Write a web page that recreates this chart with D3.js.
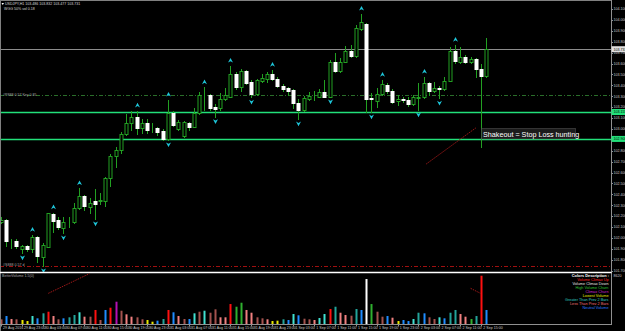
<!DOCTYPE html>
<html>
<head>
<meta charset="utf-8">
<script src="https://cdn.jsdelivr.net/npm/d3@7"></script>
<style>
html, body { margin: 0; padding: 0; background: #000; overflow: hidden; }
svg { display: block; }
text { font-family: "Liberation Sans", "DejaVu Sans", sans-serif; }
</style>
</head>
<body>
<svg id="chart" width="625" height="331"></svg>
<script>
// ---- chart data (USDJPY H1, 29 Aug 19:00 -> 2 Sep 16:00) ----
var titleLine = "USDJPY,H1  103.486 103.832 103.477 103.731";
var subTitleLine = "WGG  50% vol  0.18";

var opens = [102.146,102.165,101.967,101.972,101.899,101.922,101.899,102.009,101.825,101.920,
	102.220,102.165,102.091,102.142,102.144,102.270,102.385,102.287,102.339,102.341,
	102.342,102.547,102.752,102.807,102.954,103.057,103.112,103.006,103.052,102.997,
	103.011,102.981,102.905,103.144,102.997,102.935,103.057,103.021,103.144,103.311,
	103.311,103.201,103.189,103.272,103.296,103.504,103.382,103.532,103.433,103.318,
	103.443,103.461,103.504,103.458,103.397,103.373,103.357,103.235,103.174,103.278,
	103.300,103.296,103.339,103.296,103.617,103.532,103.617,103.718,103.669,103.917,
	103.963,103.279,103.259,103.321,103.403,103.351,103.256,103.275,103.266,103.226,
	103.288,103.290,103.419,103.351,103.376,103.364,103.443,103.715,103.617,103.663,
	103.617,103.642,103.550,103.486];
var highs = [102.192,102.174,101.990,101.990,101.935,101.935,102.027,102.018,101.954,102.233,
	102.233,102.192,102.192,102.192,102.321,102.454,102.394,102.364,102.449,102.412,
	102.562,102.770,102.837,102.975,103.137,103.167,103.167,103.088,103.088,103.057,
	103.021,102.997,103.266,103.167,103.082,103.076,103.066,103.192,103.342,103.380,
	103.321,103.229,103.327,103.378,103.578,103.525,103.550,103.541,103.449,103.458,
	103.504,103.525,103.541,103.477,103.412,103.385,103.366,103.275,103.302,103.342,
	103.351,103.364,103.449,103.633,103.700,103.651,103.761,103.770,103.954,104.055,
	103.972,103.327,103.376,103.449,103.419,103.366,103.311,103.296,103.293,103.311,
	103.421,103.477,103.431,103.433,103.394,103.474,103.755,103.770,103.755,103.679,
	103.660,103.655,103.596,103.832];
var lows = [102.137,101.926,101.908,101.908,101.862,101.880,101.871,101.779,101.743,101.917,
	102.055,102.082,102.045,102.100,102.137,102.266,102.256,102.229,102.174,102.311,
	102.293,102.477,102.651,102.782,102.944,102.990,102.954,102.963,102.960,102.969,
	102.944,102.899,102.899,103.027,102.990,102.926,102.990,103.018,103.137,103.174,
	103.174,103.112,103.174,103.266,103.293,103.366,103.351,103.412,103.290,103.311,
	103.431,103.433,103.449,103.385,103.348,103.311,103.192,103.091,103.165,103.266,
	103.266,103.293,103.293,103.293,103.522,103.522,103.614,103.660,103.660,103.908,
	103.155,103.155,103.204,103.311,103.330,103.238,103.220,103.247,103.210,103.220,
	103.174,103.284,103.311,103.339,103.281,103.357,103.440,103.605,103.605,103.605,
	103.605,103.477,102.834,103.477];
var closes = [102.165,101.972,101.972,101.926,101.926,101.899,102.009,101.834,101.935,102.226,
	102.158,102.100,102.146,102.146,102.272,102.385,102.293,102.318,102.311,102.344,
	102.547,102.752,102.807,102.954,103.057,103.112,103.006,103.052,102.990,102.999,
	102.975,102.905,103.149,103.036,103.066,103.066,103.021,103.144,103.311,103.307,
	103.195,103.183,103.272,103.311,103.504,103.382,103.532,103.424,103.318,103.449,
	103.470,103.504,103.458,103.397,103.366,103.351,103.235,103.174,103.281,103.302,
	103.302,103.339,103.296,103.617,103.532,103.617,103.718,103.669,103.923,103.978,
	103.275,103.270,103.321,103.412,103.351,103.250,103.275,103.266,103.226,103.290,
	103.293,103.419,103.351,103.373,103.366,103.443,103.715,103.623,103.663,103.617,
	103.642,103.550,103.486,103.731];

var volumes = [835,1420,890,835,710,530,1420,1010,1900,2185,
	1420,835,1010,1190,1600,2080,1300,1300,2490,710,
	2490,2895,3960,2360,1720,1300,1190,835,710,410,
	590,890,2490,2080,1420,890,890,1900,2185,2360,
	2005,2610,1190,1190,3550,3070,3780,2490,2005,1190,
	1010,835,530,590,835,710,1775,1545,940,835,
	710,1065,1775,2665,3070,2005,1600,1475,2665,2490,
	7990,3550,2185,1300,1420,1120,530,710,530,890,
	2005,1900,1190,890,1190,1010,2005,2490,1775,1300,
	890,1420,8580,2490];
// U climax up, D climax down, C churn, M climax churn, Y lowest,
// G/g greater than prev 2 (bright/dim), L/l less than prev 2 (bright/dim), N neutral
var volumeClass = ["l","N","L","l","Y","Y","G","N","g","U",
	"L","l","N","g","g","G","L","l","U","l",
	"N","U","M","l","L","L","l","l","Y","Y",
	"N","g","U","N","L","l","N","G","l","G",
	"l","l","L","L","U","C","C","L","L","l",
	"l","L","Y","Y","g","N","G","N","l","l",
	"L","G","G","U","g","L","L","l","g","N",
	"D","C","l","l","N","L","Y","N","N","G",
	"g","N","l","l","G","N","g","g","L","L",
	"C","g","U","N"];

var timeLabels = ["29 Aug 2016","29 Aug 23:00","30 Aug 03:00","30 Aug 07:00","30 Aug 11:00","30 Aug 15:00",
	"30 Aug 19:00","30 Aug 23:00","31 Aug 03:00","31 Aug 07:00","31 Aug 11:00","31 Aug 15:00",
	"31 Aug 19:00","31 Aug 23:00","1 Sep 03:00","1 Sep 07:00","1 Sep 11:00","1 Sep 15:00",
	"1 Sep 19:00","1 Sep 23:00","2 Sep 03:00","2 Sep 07:00","2 Sep 11:00","2 Sep 15:00"];
var timeLabelStep = 4;

var priceTicks = d3.range(25).map(function(k) { return +(104.1 - k * 0.1).toFixed(3); });
var volumeTickLabel = 8620;

var upFractals = [6,10,15,26,32,39,44,52,69,73,81,87];
var downFractals = [4,8,12,18,32,41,48,57,63,71,80,84];

var bidPrice = 103.731;
var greenLevels = [103.155, 102.908];
var keyLevel = 103.311;
var keyLevelText = "#P888 0.57 Key 0.85";
var supportLevel = 101.743;
var supportLevelText = "#S888 0.57 d";

var priceTrend = [{ bar: 81.5, price: 102.678 }, { bar: 91, price: 103.009 }];
var volumeTrends = [
	[{ bar: 9.1, vol: 5450 }, { bar: 17.1, vol: 9000 }],
	[{ bar: 90.0, vol: 6340 }, { bar: 91.9, vol: 5450 }]
];
var noteText = "Shakeout = Stop Loss hunting";
var noteBar = 92, notePrice = 103.004;

var volumeTitle = "BetterVolume 1.5(0)";
var legendTitle = "Colors Description :";
var legendNames = ["Volume Climax Up","Volume Climax Down","High Volume Churn","Climax Churn",
	"Lowest Volume","Greater Than Prev 2 Bars","Less Than Prev 2 Bars","Neutral Volume"];
var legendCodes = ["U","D","C","M","Y","G","L","N"];

window.onload = function()
{
	DrawChart();
}

function DrawChart()
{
	var svg = d3.select("#chart");
	var axisX = 611.5;
	var mainBottom = 269;
	var volTop = 275.5, volBottom = 324;
	var bull = "#22a022";
	var n = opens.length;

	var x = d3.scaleLinear().domain([0, n - 1]).range([0.8, 0.8 + 5.22 * (n - 1)]);
	var y = d3.scaleLinear().domain([101.7147, 104.1826]).range([mainBottom, 0]);
	var yv = d3.scaleLinear().domain([0, volumeTickLabel]).range([volBottom, volTop]);
	var volColor = d3.scaleOrdinal()
		.domain(["U","D","C","M","Y","G","g","L","l","N"])
		.range(["#ff1010","#ffffff","#2fb02f","#b410b4","#e8e800","#40e0d0","#23a49a","#f08080","#a4524e","#1e8cff"]);
	var legendColor = d3.scaleOrdinal()
		.domain(legendCodes)
		.range(["#ff2020","#e0e0e0","#30c030","#d020d0","#e8e800","#30d0c0","#f07070","#2a7cff"]);

	function cx(i) { return Math.round(x(i)) + 0.5; }
	function py(p) { return Math.round(y(p)) + 0.5; }

	var bars = d3.range(n).map(function(i) {
		return { i: i, o: opens[i], h: highs[i], l: lows[i], c: closes[i], v: volumes[i], k: volumeClass[i] };
	});

	var defs = svg.append("defs");
	defs.append("clipPath").attr("id", "clipMain").append("rect")
		.attr("x", 1).attr("y", 1).attr("width", axisX - 1).attr("height", 271);
	defs.append("clipPath").attr("id", "clipVol").append("rect")
		.attr("x", 1).attr("y", 273.5).attr("width", axisX - 1).attr("height", volBottom - 273.5);

	/* frame */
	svg.append("line").attr("x1", 0).attr("x2", axisX).attr("y1", 0.5).attr("y2", 0.5)
		.attr("stroke", "#808080");
	svg.append("line").attr("x1", 0.5).attr("x2", 0.5).attr("y1", 0).attr("y2", 331)
		.attr("stroke", "#808080");
	svg.append("line").attr("x1", axisX).attr("x2", axisX).attr("y1", 0).attr("y2", 325)
		.attr("stroke", "#909090");
	svg.append("line").attr("x1", 0).attr("x2", axisX).attr("y1", 324.5).attr("y2", 324.5)
		.attr("stroke", "#909090");

	var main = svg.append("g").attr("clip-path", "url(#clipMain)");

	/* horizontal levels */
	main.append("line").attr("x1", 0).attr("x2", axisX)
		.attr("y1", py(keyLevel)).attr("y2", py(keyLevel))
		.attr("stroke", "#2a6e2a").attr("stroke-dasharray", "4,2,1,2");
	main.append("line").attr("x1", 0).attr("x2", axisX)
		.attr("y1", py(supportLevel)).attr("y2", py(supportLevel))
		.attr("stroke", "#a01010").attr("stroke-dasharray", "4,2,1,2");
	main.append("line").attr("x1", 0).attr("x2", axisX)
		.attr("y1", py(bidPrice)).attr("y2", py(bidPrice))
		.attr("stroke", "#8c8c8c");
	main.selectAll(".level").data(greenLevels).enter().append("line")
		.attr("class", "level")
		.attr("x1", 0).attr("x2", axisX)
		.attr("y1", function(d) { return py(d); })
		.attr("y2", function(d) { return py(d); })
		.attr("stroke", "#22e07a").attr("stroke-width", 1.3);

	main.append("text").attr("x", 3).attr("y", py(keyLevel) + 0.5)
		.attr("fill", "#a8a8a8").attr("font-size", 3.6).text(keyLevelText);
	main.append("text").attr("x", 3).attr("y", py(supportLevel) - 1)
		.attr("fill", "#a8a8a8").attr("font-size", 3.6).text(supportLevelText);

	/* trend line */
	main.append("line")
		.attr("x1", x(priceTrend[0].bar)).attr("y1", y(priceTrend[0].price))
		.attr("x2", x(priceTrend[1].bar)).attr("y2", y(priceTrend[1].price))
		.attr("stroke", "#a01818").attr("stroke-dasharray", "1.5,1");

	/* candles */
	main.selectAll(".wick").data(bars).enter().append("line")
		.attr("class", "wick")
		.attr("x1", function(d) { return cx(d.i); })
		.attr("x2", function(d) { return cx(d.i); })
		.attr("y1", function(d) { return Math.round(y(d.h)); })
		.attr("y2", function(d) { return Math.round(y(d.l)) + 1; })
		.attr("stroke", bull);

	main.selectAll(".body").data(bars).enter().append("rect")
		.attr("class", "body")
		.attr("x", function(d) { return cx(d.i) - 1.5; })
		.attr("width", 3)
		.attr("y", function(d) { return py(Math.max(d.o, d.c)); })
		.attr("height", function(d) { return Math.max(0, py(Math.min(d.o, d.c)) - py(Math.max(d.o, d.c))); })
		.attr("fill", function(d) { return d.c >= d.o ? "#000" : "#fff"; })
		.attr("stroke", function(d) { return d.c >= d.o ? bull : "#fff"; });

	/* fractal arrows */
	var arrows = main.append("g").attr("fill", "#1ec6da");
	arrows.selectAll(".up").data(upFractals).enter().append("path")
		.attr("class", "up")
		.attr("d", function(i) {
			var ax = cx(i), ay = y(highs[i]) - 5.5;
			return "M" + ax + "," + (ay - 2.5) + "L" + (ax + 2.5) + "," + (ay + 2.2) +
				"L" + ax + "," + (ay + 0.8) + "L" + (ax - 2.5) + "," + (ay + 2.2) + "Z";
		});
	arrows.selectAll(".down").data(downFractals).enter().append("path")
		.attr("class", "down")
		.attr("d", function(i) {
			var ax = cx(i), ay = y(lows[i]) + 4.7;
			return "M" + ax + "," + (ay + 2.5) + "L" + (ax + 2.5) + "," + (ay - 2.2) +
				"L" + ax + "," + (ay - 0.8) + "L" + (ax - 2.5) + "," + (ay - 2.2) + "Z";
		});

	/* note */
	var note = main.append("g")
		.attr("transform", "translate(" + (x(noteBar) + 0.5) + "," + y(notePrice) + ")");
	note.append("rect").attr("x", 0).attr("y", 0).attr("width", 94).attr("height", 10.5)
		.attr("fill", "#1c1c1c").attr("stroke", "#5a5a5a").attr("stroke-width", 0.5);
	note.append("text").attr("x", 1.5).attr("y", 8.3)
		.attr("fill", "#ffffff").attr("font-size", 7.2).text(noteText);

	/* title */
	svg.append("path").attr("d", "M1.5,3L4,3L2.75,5Z").attr("fill", "#fff");
	svg.append("text").attr("x", 5).attr("y", 5.2).attr("fill", "#d8d8d8")
		.attr("font-size", 3.6).text(titleLine);
	svg.append("text").attr("x", 4).attr("y", 10.2).attr("fill", "#d8d8d8")
		.attr("font-size", 3.6).text(subTitleLine);

	/* price axis */
	var pAxis = svg.append("g");
	pAxis.selectAll(".ptick").data(priceTicks).enter().append("text")
		.attr("class", "ptick")
		.attr("x", 613.5)
		.attr("y", function(d) { return y(d) + 1.3; })
		.attr("fill", "#c8c8c8").attr("font-size", 3.6)
		.text(function(d) { return d.toFixed(3); });
	pAxis.selectAll(".pmark").data(priceTicks).enter().append("line")
		.attr("class", "pmark")
		.attr("x1", axisX).attr("x2", axisX + 1.5)
		.attr("y1", function(d) { return py(d); })
		.attr("y2", function(d) { return py(d); })
		.attr("stroke", "#909090");

	var boxes = [{ p: bidPrice, fill: "#e0e0e0" }]
		.concat(greenLevels.map(function(p) { return { p: p, fill: "#22e07a" }; }));
	var box = pAxis.selectAll(".pbox").data(boxes).enter().append("g").attr("class", "pbox");
	box.append("rect").attr("x", axisX).attr("width", 625 - axisX)
		.attr("y", function(d) { return y(d.p) - 3; }).attr("height", 6)
		.attr("fill", function(d) { return d.fill; });
	box.append("text").attr("x", 613.5).attr("y", function(d) { return y(d.p) + 1.3; })
		.attr("fill", "#000").attr("font-size", 3.6)
		.text(function(d) { return d.p.toFixed(3); });

	/* volume window */
	svg.append("line").attr("x1", 0).attr("x2", axisX).attr("y1", 272.5).attr("y2", 272.5)
		.attr("stroke", "#ffffff").attr("stroke-width", 1.4);

	var vol = svg.append("g").attr("clip-path", "url(#clipVol)");
	vol.selectAll(".vbar").data(bars).enter().append("rect")
		.attr("class", "vbar")
		.attr("x", function(d) { return cx(d.i) - 1; })
		.attr("width", 2)
		.attr("y", function(d) { return yv(d.v); })
		.attr("height", function(d) { return volBottom - yv(d.v); })
		.attr("fill", function(d) { return volColor(d.k); });

	vol.selectAll(".vtrend").data(volumeTrends).enter().append("line")
		.attr("class", "vtrend")
		.attr("x1", function(d) { return x(d[0].bar); })
		.attr("y1", function(d) { return yv(d[0].vol); })
		.attr("x2", function(d) { return x(d[1].bar); })
		.attr("y2", function(d) { return yv(d[1].vol); })
		.attr("stroke", "#a01818").attr("stroke-dasharray", "1.5,1");

	svg.append("text").attr("x", 2).attr("y", 277.3).attr("fill", "#a8a8a8")
		.attr("font-size", 3.6).text(volumeTitle);
	svg.append("text").attr("x", 613.5).attr("y", volTop + 1.3).attr("fill", "#c8c8c8")
		.attr("font-size", 3.6).text(volumeTickLabel);

	var legend = svg.append("g").attr("text-anchor", "end");
	legend.append("text").attr("x", 609).attr("y", 277.2)
		.attr("fill", "#ffffff").attr("font-size", 3.9).attr("font-weight", "bold")
		.text(legendTitle);
	legend.selectAll(".item").data(legendNames).enter().append("text")
		.attr("class", "item")
		.attr("x", 608.5)
		.attr("y", function(d, i) { return 281.4 + i * 4; })
		.attr("fill", function(d, i) { return legendColor(legendCodes[i]); })
		.attr("font-size", 3.8)
		.text(function(d) { return d; });

	/* time axis */
	var tAxis = svg.append("g");
	tAxis.selectAll(".tlabel").data(timeLabels).enter().append("text")
		.attr("class", "tlabel")
		.attr("x", function(d, k) { return Math.max(1, x(k * timeLabelStep) + 2.3); })
		.attr("y", 329.3)
		.attr("fill", "#c8c8c8").attr("font-size", 3.6)
		.text(function(d) { return d; });
	tAxis.selectAll(".tmark").data(timeLabels).enter().append("line")
		.attr("class", "tmark")
		.attr("x1", function(d, k) { return cx(k * timeLabelStep); })
		.attr("x2", function(d, k) { return cx(k * timeLabelStep); })
		.attr("y1", 324.5).attr("y2", 326.5)
		.attr("stroke", "#909090");
}
</script>
</body>
</html>
